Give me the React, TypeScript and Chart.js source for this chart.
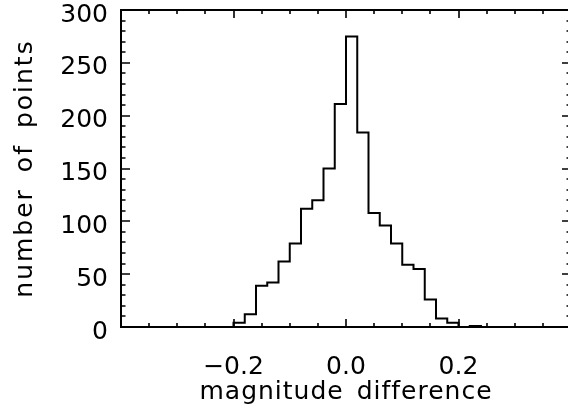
import React, { useEffect, useRef } from "react";
import { Chart, registerables } from "chart.js";

Chart.register(...registerables);

// Histogram bins: left edges and counts (bin width 0.02)
const binLeftEdges = [
  -0.22, -0.2, -0.18, -0.16, -0.14, -0.12, -0.1, -0.08, -0.06, -0.04, -0.02,
  0.0, 0.02, 0.04, 0.06, 0.08, 0.1, 0.12, 0.14, 0.16, 0.18, 0.2, 0.22, 0.24,
];
const binCounts = [
  0, 4, 12, 39, 42, 62, 79, 112, 120, 150, 211,
  275, 184, 108, 96, 79, 59, 55, 26, 8, 4, 0, 1, 0,
];
const lastBinRightEdge = 0.26;

const xMajorValues = [-0.4, -0.2, 0.0, 0.2, 0.4];
const xTickLabels: Record<string, string> = { "-20": "\u22120.2", "0": "0.0", "20": "0.2" };
const yMajorValues = [0, 50, 100, 150, 200, 250, 300];

const xTitle = "magnitude difference";
const yTitle = "number of points";

const FONT = '"DejaVu Sans", sans-serif';

const framePlugin = {
  id: "idlFrame",
  afterDraw(chart: any) {
    const { ctx, chartArea } = chart;
    const { left, right, top, bottom } = chartArea;
    const xs = chart.scales.x;
    const ys = chart.scales.y;
    ctx.save();
    ctx.strokeStyle = "#000";
    ctx.lineWidth = 2;
    ctx.strokeRect(left, top, right - left, bottom - top);
    ctx.lineWidth = 1.6;
    ctx.beginPath();
    xs.ticks.forEach((t: any) => {
      const px = Math.round(xs.getPixelForValue(t.value));
      const major = xMajorValues.some((m) => Math.abs(m - t.value) < 1e-6);
      const len = major ? 8 : 4;
      ctx.moveTo(px, bottom);
      ctx.lineTo(px, bottom - len);
      ctx.moveTo(px, top);
      ctx.lineTo(px, top + len);
    });
    ys.ticks.forEach((t: any) => {
      const py = Math.round(ys.getPixelForValue(t.value));
      const major = yMajorValues.some((m) => Math.abs(m - t.value) < 1e-6);
      const len = major ? 9 : 4.5;
      ctx.moveTo(left, py);
      ctx.lineTo(left + len, py);
      ctx.moveTo(right, py);
      ctx.lineTo(right - len, py);
    });
    ctx.stroke();

    // axis titles
    ctx.fillStyle = "#000";
    ctx.font = "25px " + FONT;
    ctx.textAlign = "center";
    ctx.textBaseline = "alphabetic";
    try {
      (ctx as any).letterSpacing = "1px";
      (ctx as any).wordSpacing = "4px";
    } catch (e) {}
    ctx.fillText(xTitle, (left + right) / 2, 399);
    try {
      (ctx as any).letterSpacing = "2px";
      (ctx as any).wordSpacing = "6px";
    } catch (e) {}
    ctx.translate(32, (top + bottom) / 2);
    ctx.rotate(-Math.PI / 2);
    ctx.fillText(yTitle, 0, 0);
    ctx.restore();
  },
};

const zeroPadding = (scale: any) => {
  scale.paddingTop = 0;
  scale.paddingBottom = 0;
  scale.paddingLeft = 0;
  scale.paddingRight = 0;
};

export default function App() {
  const canvasRef = useRef<HTMLCanvasElement | null>(null);

  useEffect(() => {
    const canvas = canvasRef.current;
    if (!canvas) return;
    const points = binLeftEdges.map((x, i) => ({ x, y: binCounts[i] }));
    points.push({ x: lastBinRightEdge, y: 0 });

    const chart = new Chart(canvas, {
      type: "line",
      data: {
        datasets: [
          {
            data: points,
            stepped: "before",
            borderColor: "#000",
            borderWidth: 2,
            pointRadius: 0,
            fill: false,
          },
        ],
      },
      options: {
        animation: false,
        responsive: false,
        devicePixelRatio: 1,
        layout: { padding: { top: 10, right: 9, left: 0, bottom: 0 } },
        plugins: { legend: { display: false }, tooltip: { enabled: false } },
        scales: {
          x: {
            type: "linear",
            min: -0.4,
            max: 0.4,
            grid: { display: false, drawTicks: false },
            border: { display: false },
            ticks: {
              stepSize: 0.05,
              autoSkip: false,
              maxRotation: 0,
              padding: 25,
              color: "#000",
              font: { family: FONT, size: 25 },
              callback: (v: any) => {
                const k = String(Math.round(Number(v) * 100));
                return xTickLabels[k] ?? "";
              },
            },
            afterFit: (scale: any) => {
              scale.height = 83;
              zeroPadding(scale);
            },
          },
          y: {
            type: "linear",
            min: 0,
            max: 300,
            grid: { display: false, drawTicks: false },
            border: { display: false },
            ticks: {
              stepSize: 10,
              autoSkip: false,
              padding: 13,
              labelOffset: 5,
              color: "#000",
              font: { family: FONT, size: 25 },
              callback: (v: any) => {
                const n = Math.round(Number(v));
                return n % 50 === 0 ? String(n) : "";
              },
            },
            afterFit: (scale: any) => {
              scale.width = 121;
              zeroPadding(scale);
            },
          },
        },
      },
      plugins: [framePlugin],
    });
    return () => chart.destroy();
  }, []);

  return (
    <div
      style={{
        position: "absolute",
        left: 0,
        top: 0,
        width: 568,
        height: 410,
        overflow: "hidden",
        background: "#fff",
      }}
    >
      <canvas ref={canvasRef} width={580} height={410} style={{ width: 580, height: 410, display: "block" }} />
    </div>
  );
}
